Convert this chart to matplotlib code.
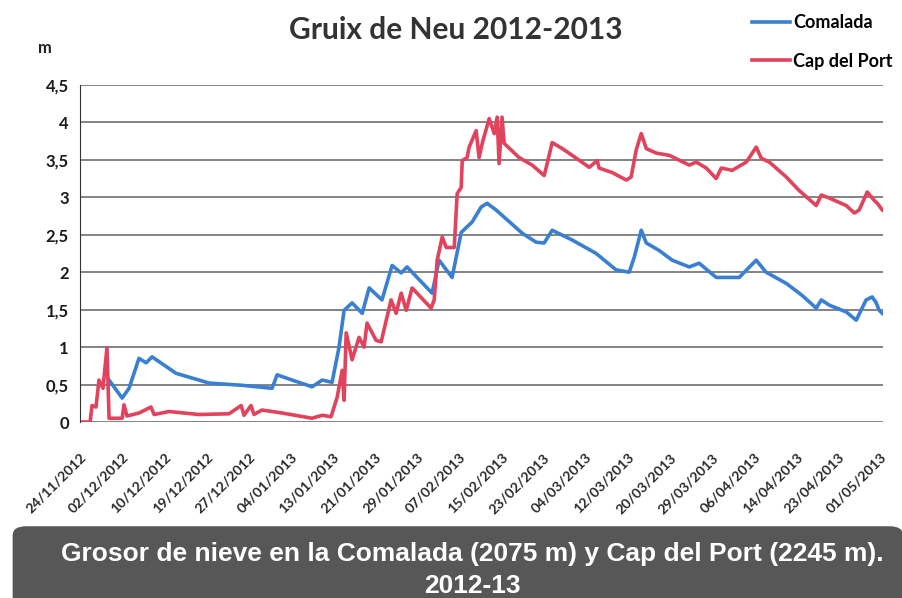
import matplotlib.pyplot as plt
import pandas as pd
from matplotlib.patches import FancyBboxPatch

# hours since 24/11/2012 00:00 (hourly record, sampled)
com_hours = [138, 200, 233, 280, 314, 342, 456, 613, 770, 912, 936, 1007, 1102, 1150, 1197,
             1230, 1254, 1292, 1340, 1373, 1434, 1482, 1525, 1553, 1672, 1705, 1767, 1810,
             1862, 1905, 1933, 1976, 2100, 2166, 2204, 2242, 2337, 2451, 2546, 2608, 2632,
             2665, 2689, 2750, 2812, 2893, 2940, 3021, 3130, 3211, 3258, 3354, 3429, 3496,
             3520, 3558, 3638, 3686, 3733, 3762, 3781, 3795, 3810]
comalada = [0.56, 0.32, 0.45, 0.85, 0.79, 0.87, 0.65, 0.52, 0.49, 0.45, 0.63, 0.56, 0.47, 0.56, 0.53,
            1.00, 1.49, 1.59, 1.45, 1.79, 1.63, 2.09, 1.99, 2.07, 1.72, 2.16, 1.93, 2.53,
            2.67, 2.87, 2.92, 2.83, 2.52, 2.40, 2.39, 2.56, 2.43, 2.25, 2.03, 2.00, 2.20,
            2.56, 2.39, 2.29, 2.16, 2.07, 2.12, 1.93, 1.93, 2.16, 2.00, 1.85, 1.69, 1.52,
            1.63, 1.56, 1.47, 1.36, 1.63, 1.67, 1.59, 1.49, 1.45]

cap_hours = [0, 48, 57, 76, 90, 109, 128, 138, 200, 209, 223, 280, 337, 352, 423, 565, 708, 765,
             779, 812, 826, 864, 912, 960, 1102, 1150, 1192, 1221, 1245, 1254, 1264, 1292, 1325,
             1349, 1363, 1406, 1430, 1477, 1501, 1525, 1549, 1577, 1667, 1682, 1696, 1720, 1739,
             1777, 1791, 1810, 1815, 1838, 1848, 1881, 1895, 1910, 1943, 1967, 1981, 1990, 2004,
             2014, 2085, 2147, 2204, 2214, 2242, 2290, 2337, 2418, 2456, 2465, 2527, 2594, 2617,
             2641, 2665, 2689, 2736, 2798, 2893, 2926, 2974, 3021, 3045, 3097, 3164, 3211, 3235,
             3273, 3354, 3415, 3496, 3520, 3558, 3638, 3677, 3700, 3738, 3771, 3786, 3810]
cap_del_port = [0.00, 0.00, 0.22, 0.20, 0.56, 0.45, 0.99, 0.05, 0.05, 0.23, 0.08, 0.12, 0.20, 0.10,
                0.14, 0.10, 0.11, 0.22, 0.09, 0.22, 0.10, 0.16, 0.14, 0.12, 0.05, 0.09, 0.07, 0.33,
                0.69, 0.29, 1.19, 0.83, 1.13, 1.00, 1.32, 1.09, 1.07, 1.63, 1.45, 1.72, 1.49, 1.79,
                1.52, 1.63, 2.16, 2.47, 2.33, 2.33, 3.05, 3.13, 3.49, 3.53, 3.67, 3.89, 3.53, 3.72,
                4.05, 3.85, 4.07, 3.45, 4.07, 3.72, 3.53, 3.43, 3.29, 3.40, 3.73, 3.65, 3.56, 3.40,
                3.49, 3.39, 3.33, 3.23, 3.27, 3.63, 3.85, 3.65, 3.59, 3.56, 3.43, 3.47, 3.39, 3.25,
                3.39, 3.36, 3.47, 3.67, 3.52, 3.47, 3.27, 3.09, 2.89, 3.03, 2.99, 2.89, 2.79, 2.83,
                3.07, 2.96, 2.92, 2.83]

y_ticks = [0, 0.5, 1, 1.5, 2, 2.5, 3, 3.5, 4, 4.5]
y_labels = ["0", "0,5", "1", "1,5", "2", "2,5", "3", "3,5", "4", "4,5"]

start = pd.Timestamp("2012-11-24")
com_t = start + pd.to_timedelta(com_hours, unit="h")
cap_t = start + pd.to_timedelta(cap_hours, unit="h")
ticks = [start + pd.Timedelta(hours=200 * k) for k in range(20)]

fig = plt.figure(figsize=(9.03, 5.98), dpi=100)
ax = fig.add_axes([0.0886, 0.2943, 0.889, 0.5637])

ax.plot(com_t, comalada, color="#3a80d2", lw=2.6, label="Comalada")
ax.plot(cap_t, cap_del_port, color="#e2425c", lw=2.6, label="Cap del Port")

ax.set_ylim(0, 4.5)
ax.set_xlim(start, start + pd.Timedelta(hours=3812))
ax.set_yticks(y_ticks)
ax.set_yticklabels(y_labels, fontsize=12, fontweight="bold", family="Lato", color="#1a1a1a")
ax.set_xticks(ticks)
ax.set_xticklabels([t.strftime("%d/%m/%Y") for t in ticks], rotation=45, ha="right",
                   rotation_mode="anchor", fontsize=10.2, fontweight="bold", family="Lato",
                   color="#2a2a2a")
ax.tick_params(axis="y", length=0, pad=8)
ax.tick_params(axis="x", length=0, pad=21)
ax.grid(axis="y", color="#7a7a7a", lw=1.3)
ax.set_axisbelow(True)
for s in ["top", "right", "bottom"]:
    ax.spines[s].set_visible(False)
ax.spines["left"].set_color("#333333")

fig.text(0.505, 0.95, "Gruix de Neu 2012-2013", ha="center", va="center",
         fontsize=21.5, fontweight="bold", family="Lato", color="#333333")
fig.text(0.05, 0.92, "m", ha="center", va="center", fontsize=12, fontweight="bold",
         family="Lato", color="#222222")

fig.legend(loc="center left", bbox_to_anchor=(0.833, 0.93), frameon=False,
           prop={"family": "Lato", "weight": "bold", "size": 13}, handlelength=2.1,
           handletextpad=0.15, labelspacing=1.2, borderpad=0, borderaxespad=0)

banner = FancyBboxPatch((0.014, -0.05), 0.986, 0.17, transform=fig.transFigure,
                        boxstyle="round,pad=0,rounding_size=0.015", fc="#575757", ec="none")
fig.patches.append(banner)
fig.text(0.523, 0.073, "Grosor de nieve en la Comalada (2075 m) y Cap del Port (2245 m).",
         ha="center", va="center", fontsize=19, fontweight="bold", color="white",
         family=["Liberation Sans Narrow", "Liberation Sans"])
fig.text(0.523, 0.02, "2012-13", ha="center", va="center", fontsize=19, fontweight="bold",
         color="white", family=["Liberation Sans Narrow", "Liberation Sans"])

fig.savefig("out.png", dpi=100)
